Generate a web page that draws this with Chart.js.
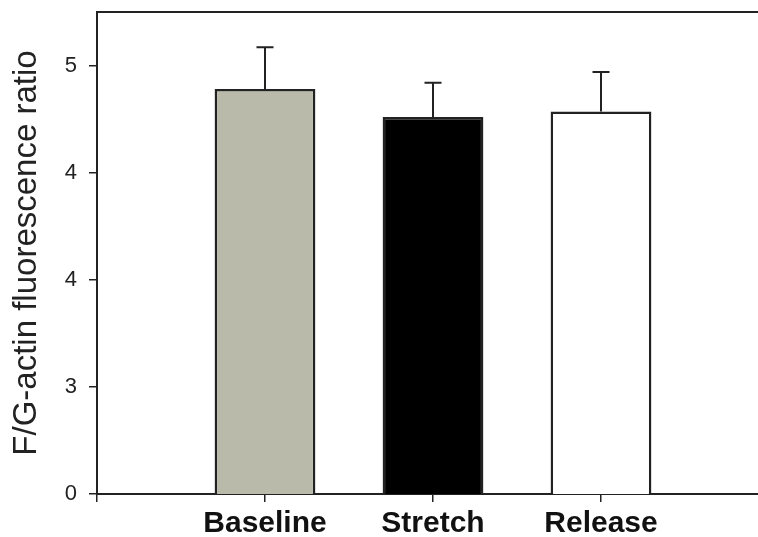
<!DOCTYPE html>
<html>
<head>
<meta charset="utf-8">
<script src="https://cdn.jsdelivr.net/npm/chart.js@4"></script>
<style>
  html, body { margin: 0; padding: 0; background: #fff; overflow: hidden; }
  #wrap { position: relative; width: 769px; height: 537px; }
</style>
</head>
<body>
<div id="wrap"><canvas id="chartCanvas"></canvas></div>
<script>
// values
const categories = ['Baseline', 'Stretch', 'Release'];
const means = [4.78, 4.52, 4.57];
const errors = [0.39, 0.32, 0.37];
const barColors = ['#b9baa9', '#000000', '#ffffff'];

// y axis as printed (equal spacing, labels as shown)
const yTickValues = [1, 2, 3, 4, 5];
const yTickLabels = ['0', '3', '4', '4', '5'];

const FONT = '"Liberation Sans", Arial, sans-serif';
const INK = '#222';

// pad categories so bars sit on the ticks, like the original
const xLabels = [''].concat(categories, ['']);
const barData = [null].concat(means, [null]);
const errData = [null].concat(errors, [null]);
const fill = ['#fff'].concat(barColors, ['#fff']);

const frameAndErrors = {
  id: 'frameAndErrors',
  afterDatasetsDraw(chart) {
    const ctx = chart.ctx;
    const x = chart.scales.x, y = chart.scales.y;
    const area = chart.chartArea;
    ctx.save();
    ctx.strokeStyle = INK;
    ctx.lineWidth = 2;
    // error bars (upper only)
    barData.forEach(function (v, i) {
      if (v === null) return;
      const px = x.getPixelForValue(i);
      const top = y.getPixelForValue(v + errData[i]);
      const base = y.getPixelForValue(v);
      ctx.beginPath();
      ctx.moveTo(px, base);
      ctx.lineTo(px, top);
      ctx.moveTo(px - 8.5, top);
      ctx.lineTo(px + 8.5, top);
      ctx.stroke();
    });
    // top frame line
    ctx.beginPath();
    ctx.moveTo(area.left - 1, area.top);
    ctx.lineTo(area.right, area.top);
    ctx.stroke();
    ctx.restore();
  }
};

const ctx = document.getElementById('chartCanvas').getContext('2d');
const chart = new Chart(ctx, {
  type: 'bar',
  data: {
    labels: xLabels,
    datasets: [{
      data: barData,
      backgroundColor: fill,
      borderColor: INK,
      borderWidth: 2.5,
      borderSkipped: false,
      categoryPercentage: 1,
      barPercentage: 0.6
    }]
  },
  options: {
    responsive: true,
    maintainAspectRatio: false,
    animation: false,
    layout: { padding: { top: 12, right: 0, left: 0, bottom: 0 } },
    plugins: {
      legend: { display: false },
      tooltip: { enabled: false }
    },
    scales: {
      x: {
        offset: false,
        grid: {
          offset: false,
          drawOnChartArea: false,
          color: INK,
          lineWidth: 1.5,
          tickLength: 8
        },
        border: { color: INK, width: 2 },
        ticks: {
          color: '#111',
          font: { family: FONT, size: 30, weight: 'bold' },
          padding: 4,
          maxRotation: 0,
          autoSkip: false
        },
        afterFit: function (scale) {
          scale.height = 43;
          scale.paddingLeft = 0;
          scale.paddingRight = 0;
        }
      },
      y: {
        min: 1,
        max: 5.5,
        grid: {
          drawOnChartArea: false,
          color: INK,
          lineWidth: 1.5,
          tickLength: 8
        },
        border: { color: INK, width: 2 },
        afterBuildTicks: function (scale) {
          scale.ticks = yTickValues.map(function (v) { return { value: v }; });
        },
        ticks: {
          color: INK,
          font: { family: FONT, size: 22 },
          padding: 12,
          callback: function (value) {
            const i = yTickValues.indexOf(value);
            return i >= 0 ? yTickLabels[i] : '';
          }
        },
        title: {
          display: true,
          text: 'F/G-actin fluorescence ratio',
          color: INK,
          font: { family: FONT, size: 33 },
          padding: { top: 7, bottom: 0 }
        },
        afterFit: function (scale) {
          scale.width = 97;
          scale.paddingTop = 0;
          scale.paddingBottom = 0;
        }
      }
    }
  },
  plugins: [frameAndErrors]
});
</script>
</body>
</html>
